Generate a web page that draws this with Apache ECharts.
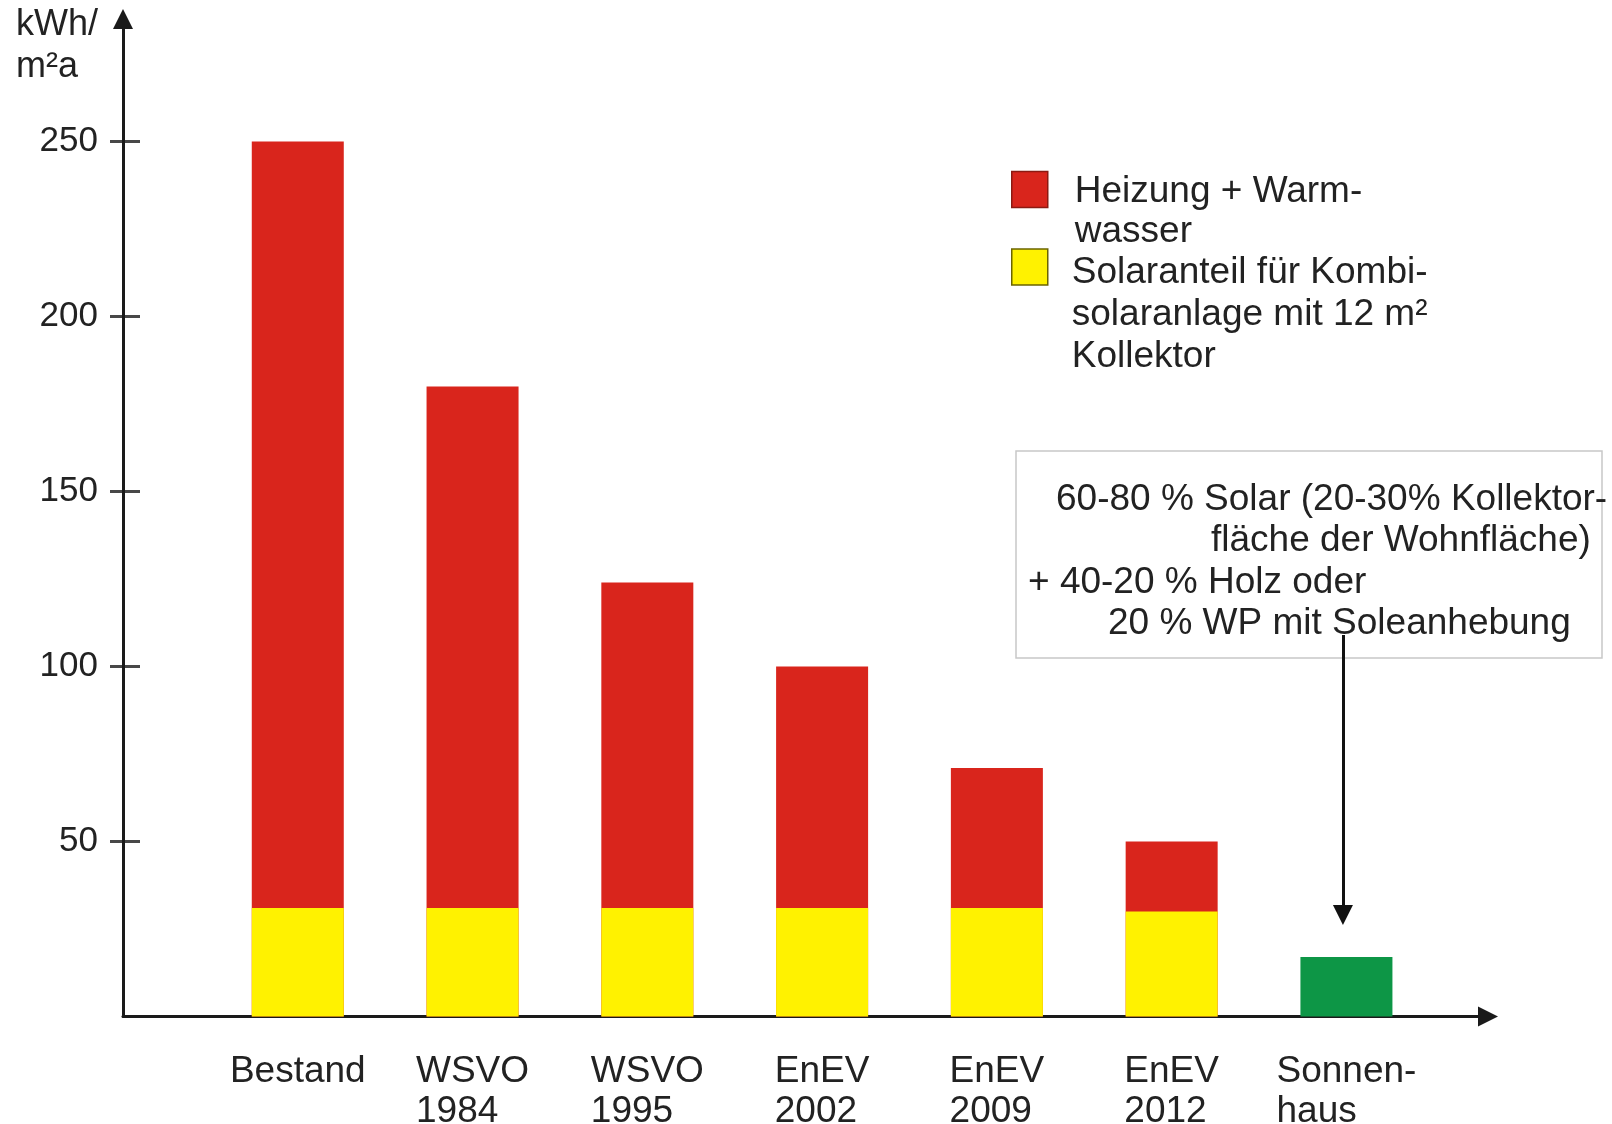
<!DOCTYPE html>
<html><head><meta charset="utf-8">
<script src="https://cdn.jsdelivr.net/npm/echarts@6/dist/echarts.min.js"></script>
<style>html,body{margin:0;padding:0;background:#fff}#c{width:1612px;height:1124px}</style>
</head><body><div id="c"></div>
<script>
const categories = ['Bestand', 'WSVO\n1984', 'WSVO\n1995', 'EnEV\n2002', 'EnEV\n2009', 'EnEV\n2012', 'Sonnen-\nhaus'];
const totalDemand = [250, 180, 124, 100, 71, 50];
const solarShare = [31, 31, 31, 31, 31, 30];
const sonnenhausValue = 17;
const yTicks = [50, 100, 150, 200, 250];
const seriesNames = ['Heizung + Warm-\nwasser', 'Solaranteil für Kombi-\nsolaranlage mit 12 m²\nKollektor'];
const unitLabel = 'kWh/\nm²a';
const noteLines = ['60-80 % Solar (20-30% Kollektor-', 'fläche der Wohnfläche)', '+ 40-20 % Holz oder', '20 % WP mit Soleanhebung'];
const arrowFrom = 109;
const arrowTo = 29;

const FONT = '"Liberation Sans", Arial, sans-serif';
const TXT = '#222';
const chart = echarts.init(document.getElementById('c'), null, {renderer: 'canvas'});

// red bar = full demand, yellow solar share drawn over its lower part
const redData = totalDemand.map((v, i) => [i + 1, v]);
const yellowData = solarShare.map((v, i) => [i + 1, v]);
const greenData = [[categories.length, sonnenhausValue]];
const tickData = yTicks.map(v => [0, v]);

const notePos = [[1056, 500], [1211, 541], [1028, 583], [1108, 624]];

function legendCfg(name, top, color, border, blankH, lh, padL) {
  const lines = name.split('\n');
  return {
    show: true, left: 1011, top: top, orient: 'vertical', padding: 0,
    itemWidth: 36, itemHeight: 36, icon: 'rect', selectedMode: false,
    data: [{name: name, itemStyle: {color: color, borderColor: border, borderWidth: 1.5}}],
    formatter: function () {
      const blanks = [];
      for (let i = 1; i < lines.length; i++) blanks.push('{s| }');
      return blanks.concat(lines.map(l => '{t|' + l + '}')).join('\n');
    },
    textStyle: {
      fontSize: 37, color: TXT, fontFamily: FONT, padding: [0, 0, 0, padL],
      rich: {
        s: {fontSize: 37, lineHeight: blankH, fontFamily: FONT},
        t: {fontSize: 37, lineHeight: lh, color: TXT, fontFamily: FONT}
      }
    }
  };
}

const option = {
  animation: false,
  backgroundColor: '#fff',
  textStyle: {fontFamily: FONT},
  grid: {left: 123, right: 124, top: 19, bottom: 107.5, containLabel: false, outerBoundsMode: 'none'},
  legend: [
    legendCfg(seriesNames[0], 131, '#d9251c', '#8c1a12', 44, 40, 22),
    legendCfg(seriesNames[1], 161.5, '#fff200', '#6b6400', 48, 42, 19)
  ],
  xAxis: {
    type: 'value', min: 0, max: 7.81, interval: 1,
    axisLine: {show: true, symbol: ['none', 'triangle'], symbolSize: [20, 20], lineStyle: {color: '#1a1a1a', width: 3}},
    axisTick: {show: false},
    splitLine: {show: false},
    axisLabel: {
      margin: 35, color: TXT,
      formatter: function (v) {
        if (Number.isInteger(v) && v >= 1 && v <= categories.length) {
          return categories[v - 1].split('\n').map(s => '{l|' + s + '}').join('\n');
        }
        return '';
      },
      rich: {l: {fontSize: 37, lineHeight: 40, align: 'left', color: TXT, fontFamily: FONT}}
    }
  },
  yAxis: {
    type: 'value', min: 0, max: 285, interval: 50, position: 'left',
    axisLine: {show: true, symbol: ['none', 'triangle'], symbolSize: [20, 20], lineStyle: {color: '#1a1a1a', width: 3}},
    axisTick: {show: false},
    axisLabel: {customValues: yTicks, fontSize: 35, margin: 25, color: TXT, fontFamily: FONT},
    splitLine: {show: false}
  },
  series: [
    {
      name: seriesNames[0], type: 'bar', barWidth: 92, barGap: '-100%',
      itemStyle: {color: '#d9251c'}, data: redData
    },
    {
      name: seriesNames[1], type: 'bar', barWidth: 92, barGap: '-100%',
      itemStyle: {color: '#fff200'}, data: yellowData
    },
    {
      name: 'Sonnenhaus', type: 'bar', barWidth: 92, barGap: '-100%',
      itemStyle: {color: '#0d9646'}, data: greenData,
      markLine: {
        silent: true, symbol: ['none', 'triangle'], symbolSize: [20, 20],
        label: {show: false},
        lineStyle: {color: '#111', width: 3, type: 'solid'},
        data: [[{coord: [6.98, arrowFrom]}, {coord: [6.98, arrowTo]}]]
      }
    },
    {
      name: 'ticks', type: 'scatter', silent: true, clip: false, z: 5,
      symbol: 'rect', symbolSize: [30, 3], symbolOffset: [2, 0],
      itemStyle: {color: '#1a1a1a'}, data: tickData
    }
  ],
  graphic: [
    {type: 'text', left: 16, top: 4, style: {text: unitLabel, fontSize: 36, lineHeight: 42, fill: TXT, fontFamily: FONT}},
    {type: 'rect', shape: {x: 1016, y: 451, width: 586, height: 207}, style: {fill: 'transparent', stroke: '#c8c8c8', lineWidth: 1.5}, z: 0}
  ].concat(noteLines.map((t, i) => ({
    type: 'text', x: notePos[i][0], y: notePos[i][1],
    style: {text: t, fontSize: 37, fill: TXT, fontFamily: FONT, verticalAlign: 'middle'}
  })))
};
chart.setOption(option);
</script></body></html>
